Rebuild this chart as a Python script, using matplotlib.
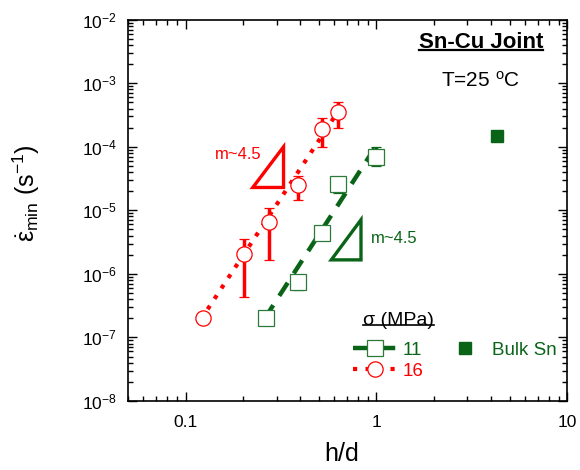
import matplotlib
matplotlib.use('Agg')
import matplotlib.pyplot as plt
from matplotlib.lines import Line2D
from matplotlib.patches import Polygon
from matplotlib.ticker import LogLocator, LogFormatterSciNotation, NullFormatter

plt.rcParams['font.family'] = ['Liberation Sans', 'DejaVu Sans']
plt.rcParams['mathtext.fontset'] = 'custom'
plt.rcParams['mathtext.rm'] = 'Liberation Sans'
plt.rcParams['mathtext.it'] = 'Liberation Sans'
plt.rcParams['mathtext.bf'] = 'Liberation Sans:bold'

RED = '#ff0000'
GREEN = '#0a6418'
GREEN_EDGE = '#2a7a38'

# sigma = 16 MPa
hd_16 = [0.123, 0.202, 0.273, 0.387, 0.52, 0.627]
rate_16 = [2.0e-7, 2.07e-6, 6.5e-6, 2.46e-5, 1.9e-4, 3.5e-4]
lo_16 = [2.0e-7, 4.4e-7, 1.66e-6, 1.43e-5, 1.0e-4, 2.0e-4]
hi_16 = [2.0e-7, 3.6e-6, 1.1e-5, 3.5e-5, 2.8e-4, 5.0e-4]

# sigma = 11 MPa
hd_11 = [0.263, 0.39, 0.52, 0.627, 1.0]
rate_11 = [2.0e-7, 7.4e-7, 4.4e-6, 2.6e-5, 7.0e-5]
lo_11 = [2.0e-7, 5.6e-7, 4.4e-6, 1.9e-5, 4.9e-5]
hi_11 = [2.0e-7, 8.5e-7, 4.4e-6, 2.6e-5, 1.0e-4]

# bulk tin reference point
hd_bulk = [4.3]
rate_bulk = [1.5e-4]

# power-law fit lines (slope ~4.5)
fit16_x = [0.12, 0.60]
fit16_y = [1.9e-7, 2.9e-4]
fit11_x = [0.26, 1.0]
fit11_y = [2.0e-7, 1.05e-4]

# slope triangles
tri16 = [(0.225, 2.29e-5), (0.326, 2.29e-5), (0.326, 1.0e-4)]
tri11 = [(0.58, 1.66e-6), (0.83, 1.66e-6), (0.83, 7.1e-6)]

x_ticks = [0.1, 1, 10]
x_ticklabels = ['0.1', '1', '10']
y_ticks = [1e-8, 1e-7, 1e-6, 1e-5, 1e-4, 1e-3, 1e-2]


def err(vals, lo, hi):
    return [[v - l for v, l in zip(vals, lo)], [h - v for v, h in zip(vals, hi)]]


fig = plt.figure(figsize=(5.8, 4.7), dpi=100)
ax = fig.add_axes([0.221, 0.147, 0.757, 0.811])
ax.set_xscale('log')
ax.set_yscale('log')
ax.set_xlim(0.05, 10)
ax.set_ylim(1e-8, 1e-2)

ax.plot(fit16_x, fit16_y, color=RED, lw=3, ls=(0, (1, 2)), zorder=2)
ax.plot(fit11_x, fit11_y, color=GREEN, lw=3.2, ls=(0, (3.5, 2.5)), zorder=2)

ax.errorbar(hd_16, rate_16, yerr=err(rate_16, lo_16, hi_16), fmt='o', ms=11,
            mfc='white', mec=RED, mew=0.9, ecolor=RED, elinewidth=2.5,
            capsize=3.5, capthick=3, zorder=3)
ax.errorbar(hd_11, rate_11, yerr=err(rate_11, lo_11, hi_11), fmt='s', ms=11,
            mfc='white', mec=GREEN_EDGE, mew=0.9, ecolor=GREEN, elinewidth=2.5,
            capsize=3.5, capthick=3, zorder=3)
ax.plot(hd_bulk, rate_bulk, 's', ms=9, color=GREEN, zorder=3)

for tri, col in ((tri16, RED), (tri11, GREEN)):
    ax.add_patch(Polygon(tri, closed=True, fill=False, edgecolor=col,
                         lw=2.4, joinstyle='miter'))

ax.text(0.251, 7.5e-5, 'm~4.5', color=RED, fontsize=12, ha='right', va='center')
ax.text(0.934, 3.56e-6, 'm~4.5', color=GREEN, fontsize=12, ha='left', va='center')

title = ax.text(0.804, 0.94, 'Sn-Cu Joint', transform=ax.transAxes, fontsize=16,
                fontweight='bold', ha='center', va='center')
ax.text(0.802, 0.84, 'T=25 $^{\\rm o}$C', transform=ax.transAxes, fontsize=15,
        ha='center', va='center')
sigma = ax.text(0.535, 0.212, '\u03c3 (MPa)', transform=ax.transAxes, fontsize=14,
                ha='left', va='center')

# legend
h11 = Line2D([], [], color=GREEN, lw=3.2, ls=(0, (3.5, 2.5)), marker='s', ms=11,
             mfc='white', mec=GREEN_EDGE, mew=0.9)
h16 = Line2D([], [], color=RED, lw=3, ls=(0, (1, 2)), marker='o', ms=11,
             mfc='white', mec=RED, mew=0.9)
hbulk = Line2D([], [], ls='none', marker='s', ms=9, color=GREEN)
hblank = Line2D([], [], ls='none')
leg = ax.legend([h11, h16, hbulk, hblank], ['11', '16', 'Bulk Sn', ''], ncol=2,
                fontsize=13.5, frameon=False, loc='center left',
                bbox_to_anchor=(0.5125, 0.105), borderaxespad=0, borderpad=0,
                handlelength=2.35, handletextpad=0.27, labelspacing=0.2,
                columnspacing=1.05, numpoints=1)
for txt, col in zip(leg.get_texts(), [GREEN, RED, GREEN, GREEN]):
    txt.set_color(col)

ax.set_xticks(x_ticks, labels=x_ticklabels)
ax.xaxis.set_minor_locator(LogLocator(base=10, subs=range(2, 10), numticks=20))
ax.xaxis.set_minor_formatter(NullFormatter())
ax.set_yticks(y_ticks)
ax.yaxis.set_major_formatter(LogFormatterSciNotation())
ax.yaxis.set_minor_locator(LogLocator(base=10, subs=range(2, 10), numticks=20))
ax.yaxis.set_minor_formatter(NullFormatter())

ax.tick_params(which='both', direction='in', top=True, right=True, width=1)
ax.tick_params(which='major', length=6.5, labelsize=12.5)
ax.tick_params(axis='x', which='major', pad=10)
ax.tick_params(axis='y', which='major', pad=8)
ax.tick_params(which='minor', length=3.5)
for sp in ax.spines.values():
    sp.set_linewidth(1.2)

ax.set_xlabel('h/d', fontsize=18)
ax.set_ylabel('$\\dot{\\varepsilon}_{\\rm min}$ (s$^{-1}$)', fontsize=18)
ax.xaxis.set_label_coords(0.487, -0.108)
ax.yaxis.set_label_coords(-0.196, 0.546)


def underline(t, lw, offset):
    fig.canvas.draw()
    bb = t.get_window_extent()
    inv = ax.transAxes.inverted()
    (x0, y0), (x1, _) = inv.transform([(bb.x0, bb.y0 + offset), (bb.x1, bb.y0)])
    ax.plot([x0, x1], [y0, y0], color='black', lw=lw,
            transform=ax.transAxes, clip_on=False)


underline(title, 1.6, 3.5)
underline(sigma, 1.2, 3.5)

fig.savefig('out.png', dpi=100)
